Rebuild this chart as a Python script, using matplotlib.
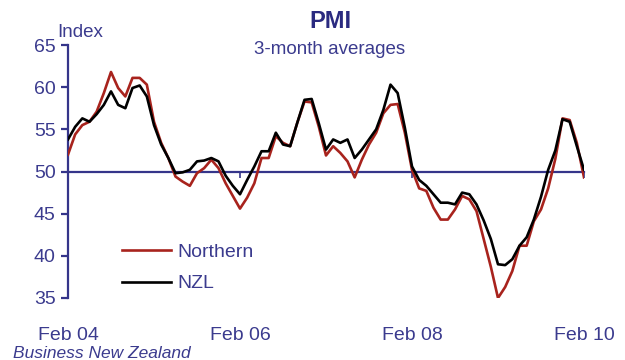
import matplotlib
matplotlib.use("Agg")
import matplotlib.pyplot as plt

plt.rcParams['font.family'] = ['Liberation Sans', 'DejaVu Sans']

NAVY = '#35358a'
TEXT = '#3b3b8e'
RED = '#a8231d'

# monthly 3-month averages, Feb 2004 .. Feb 2010
tick_labels = ['Feb 04', 'Feb 06', 'Feb 08', 'Feb 10']
tick_months = [0, 24, 48, 72]

northern = [52.0, 54.4, 55.5, 55.9, 57.1, 59.3, 61.8, 59.9, 58.9, 61.1,
            61.1, 60.3, 55.9, 53.4, 51.6, 49.4, 48.8, 48.3, 49.8, 50.4,
            51.4, 50.4, 48.6, 47.1, 45.6, 46.9, 48.6, 51.6, 51.6, 54.2,
            53.4, 53.0, 55.8, 58.3, 58.2, 55.3, 51.9, 53.0, 52.2, 51.2,
            49.3, 51.4, 53.2, 54.6, 56.9, 57.9, 58.0, 54.6, 50.2, 48.0,
            47.7, 45.7, 44.3, 44.3, 45.5, 47.1, 46.7, 45.3, 42.0, 38.7,
            35.0, 36.3, 38.2, 41.2, 41.2, 44.1, 45.5, 48.0, 51.5, 56.3,
            56.1, 53.4, 49.3]

nzl = [53.8, 55.3, 56.3, 55.9, 56.8, 57.9, 59.5, 57.9, 57.5, 59.9,
       60.2, 58.9, 55.5, 53.2, 51.6, 49.8, 49.9, 50.2, 51.2, 51.3,
       51.6, 51.2, 49.5, 48.3, 47.3, 49.0, 50.6, 52.4, 52.4, 54.6,
       53.2, 53.0, 55.8, 58.5, 58.6, 55.7, 52.6, 53.8, 53.4, 53.8,
       51.6, 52.6, 53.8, 55.0, 57.3, 60.3, 59.3, 55.2, 50.6, 49.0,
       48.3, 47.3, 46.3, 46.3, 46.1, 47.5, 47.3, 46.1, 44.2, 42.0,
       39.0, 38.9, 39.6, 41.2, 42.2, 44.3, 47.0, 50.2, 52.5, 56.2,
       55.9, 53.0, 50.2]

months = list(range(len(nzl)))

fig = plt.figure(figsize=(6.25, 3.6), dpi=100)
ax = fig.add_axes([68 / 625, 1 - 298 / 360, 516 / 625, 253 / 360])

ax.plot(months, northern, color=RED, lw=1.9, label='Northern', zorder=3)
ax.plot(months, nzl, color='black', lw=1.9, label='NZL', zorder=4)

ax.set_xlim(0, 72)
ax.set_ylim(35, 65)
ax.set_yticks(range(35, 66, 5))
ax.set_xticks(tick_months)
ax.set_xticklabels(tick_labels)

# x axis runs along the 50 line, labels sit below the plot
for s in ['top', 'right']:
    ax.spines[s].set_visible(False)
ax.spines['bottom'].set_position(('data', 50))
ax.spines['bottom'].set_color(NAVY)
ax.spines['bottom'].set_linewidth(1.6)
ax.spines['bottom'].set_zorder(2)
ax.spines['left'].set_color(NAVY)
ax.spines['left'].set_linewidth(1.6)

ax.tick_params(axis='y', direction='out', length=5, width=1.6, color=NAVY,
               labelcolor=TEXT, labelsize=14, pad=4)
ax.tick_params(axis='x', direction='out', length=4, width=1.2, color=NAVY,
               labelcolor=TEXT, labelsize=14, pad=108)

fig.text(330 / 625, 1 - 22 / 360, 'PMI', ha='center', va='center',
         fontsize=17, fontweight='bold', color='#2a2a80')
fig.text(330 / 625, 1 - 49 / 360, '3-month averages', ha='center', va='center',
         fontsize=13.5, color=TEXT)
fig.text(57 / 625, 1 - 37 / 360, 'Index', ha='left', va='baseline',
         fontsize=13.5, color=TEXT)
fig.text(13 / 625, 1 - 358 / 360, 'Business New Zealand', ha='left',
         va='baseline', fontsize=12.5, style='italic', color=TEXT)

leg = ax.legend(loc='upper left', bbox_to_anchor=(0.105, 0.215), frameon=False,
                fontsize=14, handlelength=2.5, handletextpad=0.35,
                labelspacing=0.7, borderpad=0, borderaxespad=0)
for t in leg.get_texts():
    t.set_color(TEXT)

fig.savefig('out.png', dpi=100)
